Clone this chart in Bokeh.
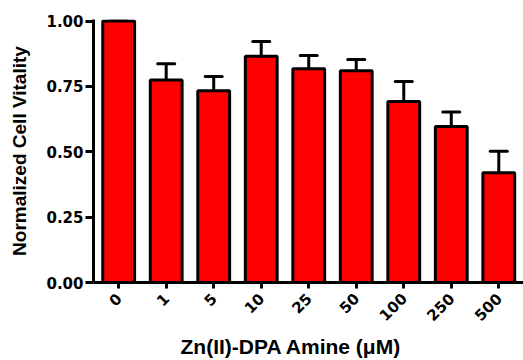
from bokeh.plotting import figure
from bokeh.models import (ColumnDataSource, Range1d, FixedTicker, NumeralTickFormatter,
                          Whisker, TeeHead, Title)
from bokeh.embed import file_html
from bokeh.resources import INLINE

# ---- data ----
concentrations = ["0", "1", "5", "10", "25", "50", "100", "250", "500"]
vitality = [1.00, 0.775, 0.733, 0.865, 0.818, 0.810, 0.692, 0.597, 0.420]
sem = [0.0, 0.062, 0.055, 0.057, 0.050, 0.043, 0.077, 0.055, 0.082]
y_ticks = [0.0, 0.25, 0.5, 0.75, 1.0]

xpos = list(range(len(concentrations)))
upper = [v + e for v, e in zip(vitality, sem)]
src = ColumnDataSource(dict(x=xpos, top=vitality, upper=upper))

p = figure(width=523, height=360, output_backend="svg", toolbar_location=None,
           x_range=Range1d(-0.53, 8.52), y_range=Range1d(0, 1.006),
           min_border_left=93, min_border_right=0, min_border_top=19,
           min_border_bottom=0)
p.outline_line_color = None
p.grid.visible = False
p.background_fill_color = "white"
p.border_fill_color = "white"

p.vbar(x="x", top="top", bottom=0, width=0.67, source=src,
       fill_color="#FF0000", line_color="black", line_width=3)

wh = Whisker(base="x", lower="top", upper="upper", source=src,
             line_color="black", line_width=3,
             upper_head=TeeHead(size=17, line_width=3, line_color="black", line_cap="round"),
             lower_head=None)
p.add_layout(wh)

# x axis
p.xaxis.ticker = FixedTicker(ticks=xpos)
p.xaxis.major_label_overrides = {i: c for i, c in zip(xpos, concentrations)}
p.xaxis.major_label_orientation = 0.785398
p.xaxis.major_tick_out = 6
p.xaxis.major_tick_in = 0
p.xaxis.major_label_standoff = 7

xtitle = Title(text="Zn(II)-DPA Amine (\u03bcM)", align="left", offset=87,
               standoff=6, text_font="Liberation Sans", text_font_style="bold",
               text_font_size="21px", text_color="black")
p.add_layout(xtitle, "below")

# y axis
p.yaxis.ticker = FixedTicker(ticks=y_ticks)
p.yaxis.formatter = NumeralTickFormatter(format="0.00")
p.yaxis.axis_label = "Normalized Cell Vitality"
p.yaxis.major_tick_out = 8
p.yaxis.major_tick_in = 0
p.yaxis.major_label_standoff = 2
p.yaxis.axis_label_standoff = 13

for ax in (p.xaxis, p.yaxis):
    ax.axis_line_width = 3
    ax.axis_line_color = "black"
    ax.major_tick_line_width = 3
    ax.major_tick_line_color = "black"
    ax.minor_tick_line_color = None
    ax.major_label_text_font = "DejaVu Sans"
    ax.major_label_text_font_style = "bold"
    ax.major_label_text_font_size = "15px"
    ax.major_label_text_color = "black"
    ax.axis_label_text_font = "Liberation Sans"
    ax.axis_label_text_font_style = "bold"
    ax.axis_label_text_font_size = "19px"
    ax.axis_label_text_color = "black"

open("out.html", "w").write(file_html(p, INLINE))
